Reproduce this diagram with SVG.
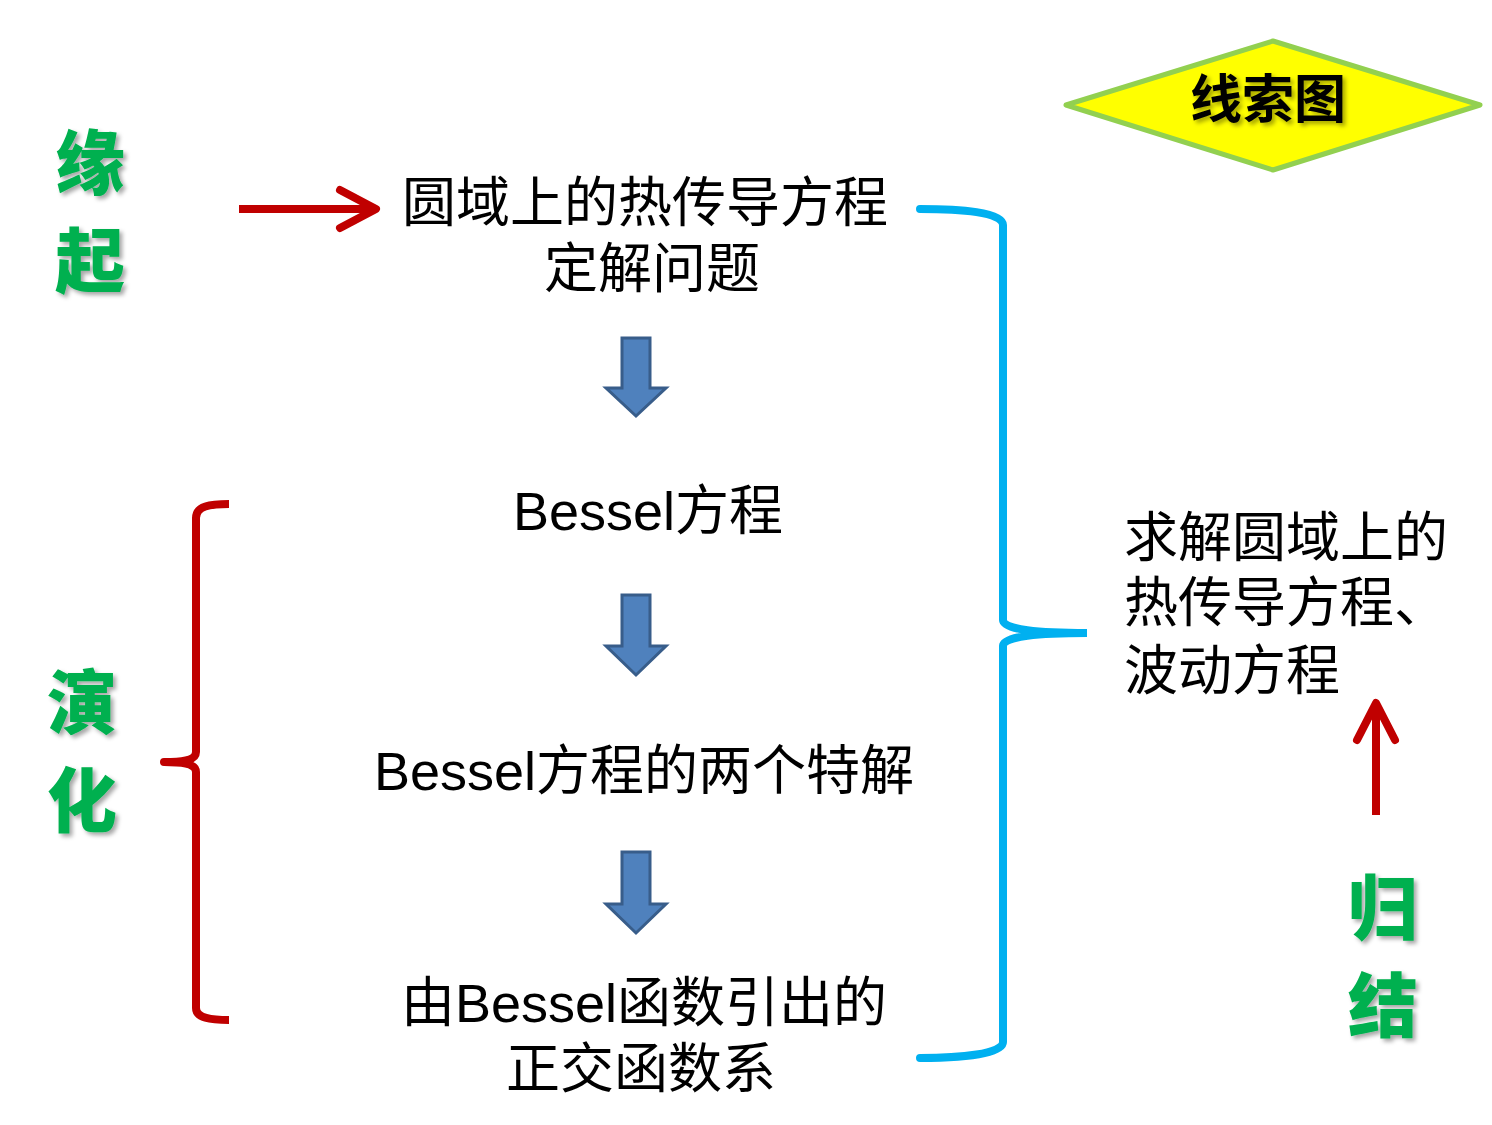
<svg xmlns="http://www.w3.org/2000/svg" width="1492" height="1125" viewBox="0 0 1492 1125">
<style>
.t{font-family:"Liberation Sans","Noto Sans CJK SC",sans-serif;font-size:54px;fill:#000;text-anchor:middle}
.g{font-family:"Noto Sans CJK SC",sans-serif;font-size:70px;font-weight:900;fill:#00B050;text-anchor:middle}
.blk{fill:#4F81BD;stroke:#385D8A;stroke-width:3}
</style>
<defs>
<filter id="sh" x="-20%" y="-20%" width="140%" height="140%">
<feDropShadow dx="3" dy="3" stdDeviation="2" flood-color="#000" flood-opacity="0.35"/>
</filter>
</defs>
<g id="title">
<polygon points="1066,105 1273,41 1480,105 1273,170" fill="#FFFF00" stroke="#92D050" stroke-width="5" stroke-linejoin="round"/>
<text x="1268" y="118" class="t" style="font-size:52px;font-weight:bold" filter="url(#sh)">线索图</text>
</g>
<g id="labels">
<text x="90" y="189" class="g" filter="url(#sh)">缘</text>
<text x="90" y="287" class="g" filter="url(#sh)">起</text>
<text x="82" y="729" class="g" filter="url(#sh)">演</text>
<text x="82" y="827" class="g" filter="url(#sh)">化</text>
<text x="1383" y="934" class="g" filter="url(#sh)">归</text>
<text x="1383" y="1032" class="g" filter="url(#sh)">结</text>
</g>
<g id="n1">
<text x="645" y="222" class="t">圆域上的热传导方程</text>
<text x="652" y="288" class="t">定解问题</text>
</g>
<g id="n2"><text x="648" y="530" class="t">Bessel方程</text></g>
<g id="n3"><text x="644" y="790" class="t">Bessel方程的两个特解</text></g>
<g id="n4">
<text x="644" y="1022" class="t">由Bessel函数引出的</text>
<text x="641" y="1088" class="t">正交函数系</text>
</g>
<g id="n5">
<text x="1124" y="557" class="t" style="text-anchor:start">求解圆域上的</text>
<text x="1124" y="622" class="t" style="text-anchor:start">热传导方程、</text>
<text x="1124" y="690" class="t" style="text-anchor:start">波动方程</text>
</g>
<g id="connectors">
<g fill="none" stroke="#C00000" stroke-width="8" stroke-linecap="round" stroke-linejoin="round">
<line x1="239" y1="209" x2="372" y2="209" stroke-linecap="butt"/>
<polyline points="340,190 376,209 340,228"/>
<line x1="1376" y1="815" x2="1376" y2="706" stroke-linecap="butt"/>
<polyline points="1357,740 1376,703 1395,740"/>
<path d="M229,504 C210,504 196,506 196,518 L196,752 C196,760 185,762 164,762 C185,762 196,764 196,772 L196,1008 C196,1018 210,1020 229,1020" stroke-linecap="butt"/>
</g>
<path d="M920,209 C960,209 1003,212 1003,225 L1003,620 C1003,630 1040,633 1087,633 C1040,633 1003,636 1003,646 L1003,1042 C1003,1054 960,1058 920,1058" fill="none" stroke="#00B0F0" stroke-width="8" stroke-linecap="round"/>
<polygon class="blk" points="622,338 650,338 650,388 666,388 636,416 606,388 622,388"/>
<polygon class="blk" points="622,595 650,595 650,646 666,646 636,675 606,646 622,646"/>
<polygon class="blk" points="622,852 650,852 650,904 666,904 636,933 606,904 622,904"/>
</g>
</svg>
